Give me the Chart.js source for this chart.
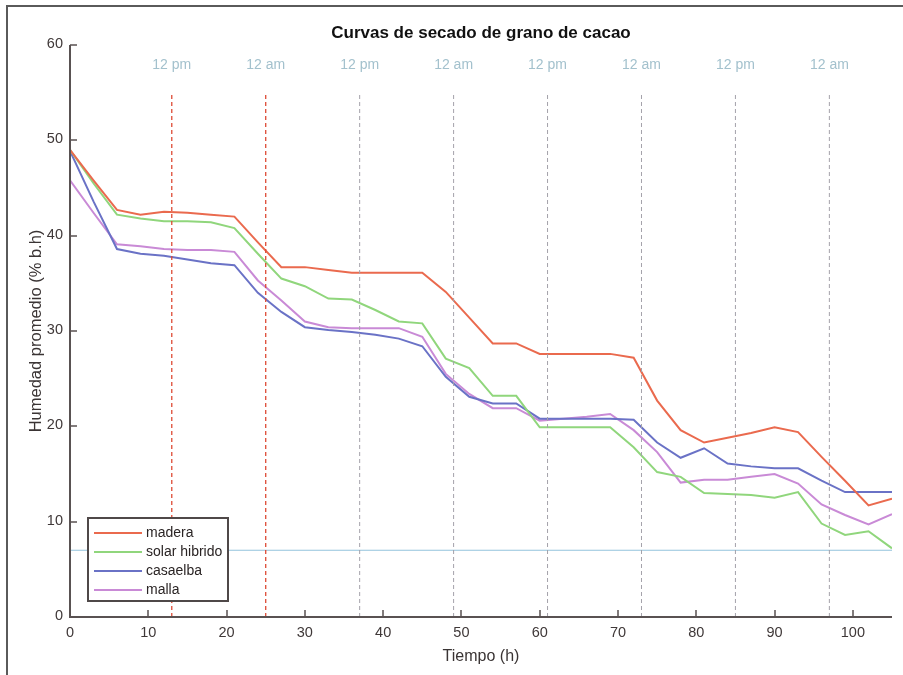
<!DOCTYPE html>
<html>
<head>
<meta charset="utf-8">
<script src="https://cdn.jsdelivr.net/npm/chart.js@4/dist/chart.umd.min.js"></script>
<style>
  html, body { margin: 0; padding: 0; background: #fff; }
  canvas { display: block; }
</style>
</head>
<body>
<canvas id="chart" width="903" height="675"></canvas>
<script>
// tiempo de muestreo (h)
const hours = [0, 3, 6, 9, 12, 15, 18, 21, 24, 27, 30, 33, 36, 39, 42, 45, 48, 51,
               54, 57, 60, 63, 66, 69, 72, 75, 78, 81, 84, 87, 90, 93, 96, 99, 102, 105];

// humedad promedio (% b.h) por secador
const madera = [49.0, 45.8, 42.7, 42.2, 42.5, 42.4, 42.2, 42.0, 39.3, 36.7, 36.7, 36.4,
                36.1, 36.1, 36.1, 36.1, 34.1, 31.4, 28.7, 28.7, 27.6, 27.6, 27.6, 27.6,
                27.2, 22.7, 19.6, 18.3, 18.8, 19.3, 19.9, 19.4, 16.8, 14.3, 11.7, 12.4];
const solarHibrido = [49.0, 45.5, 42.2, 41.8, 41.5, 41.5, 41.4, 40.8, 38.1, 35.5, 34.7, 33.4,
                      33.3, 32.2, 31.0, 30.8, 27.1, 26.1, 23.2, 23.2, 19.9, 19.9, 19.9, 19.9,
                      17.8, 15.2, 14.7, 13.0, 12.9, 12.8, 12.5, 13.1, 9.8, 8.6, 9.0, 7.2];
const casaelba = [48.9, 43.6, 38.6, 38.1, 37.9, 37.5, 37.1, 36.9, 34.0, 32.0, 30.4, 30.1,
                  29.9, 29.6, 29.2, 28.4, 25.2, 23.1, 22.4, 22.4, 20.8, 20.8, 20.8, 20.8,
                  20.7, 18.3, 16.7, 17.7, 16.1, 15.8, 15.6, 15.6, 14.3, 13.1, 13.1, 13.1];
const malla = [45.8, 42.4, 39.1, 38.9, 38.6, 38.5, 38.5, 38.3, 35.3, 33.2, 31.0, 30.4,
               30.3, 30.3, 30.3, 29.4, 25.5, 23.4, 21.9, 21.9, 20.6, 20.8, 21.0, 21.3,
               19.6, 17.3, 14.1, 14.4, 14.4, 14.7, 15.0, 14.0, 11.8, 10.7, 9.7, 10.8];

// marcas de mediodia / medianoche
const markHours = [13, 25, 37, 49, 61, 73, 85, 97];
const markLabels = ["12 pm", "12 am", "12 pm", "12 am", "12 pm", "12 am", "12 pm", "12 am"];
const markTop = 55;
const targetMoisture = 7;

const xTicks = [0, 10, 20, 30, 40, 50, 60, 70, 80, 90, 100];
const yTicks = [0, 10, 20, 30, 40, 50, 60];

const seriesNames = ["madera", "solar hibrido", "casaelba", "malla"];
const seriesValues = [madera, solarHibrido, casaelba, malla];
const seriesColors = ["#ea6a4e", "#90d67c", "#6a72c6", "#c98ad6"];

const FONT = "'Liberation Sans', Arial, Helvetica, sans-serif";

function toPoints(values) {
    return hours.map((h, i) => ({x: h, y: values[i]}));
}

let datasets = [];

//guide lines go first so the curves sit on top
markHours.forEach((h, i) => {
    datasets.push({
        label: "_mark" + i,
        data: [{x: h, y: 0}, {x: h, y: markTop}],
        borderColor: i < 2 ? "#dd4a35" : "#a4a2aa",
        borderWidth: i < 2 ? 1.3 : 1,
        borderDash: [4, 3],
        pointRadius: 0
    });
});
datasets.push({
    label: "_target",
    data: [{x: hours[0], y: targetMoisture}, {x: hours[hours.length - 1], y: targetMoisture}],
    borderColor: "#93c3dc",
    borderWidth: 1.2,
    pointRadius: 0
});

seriesNames.forEach((name, i) => {
    datasets.push({
        label: name,
        data: toPoints(seriesValues[i]),
        borderColor: seriesColors[i],
        borderWidth: 2,
        pointRadius: 0,
        tension: 0
    });
});

/** draws the matlab style frame, axes, texts and legend */
const decorPlugin = {
    id: "decor",
    beforeDraw(chart) {
        const ctx = chart.ctx;
        ctx.save();
        ctx.fillStyle = "#fff";
        ctx.fillRect(0, 0, chart.width, chart.height);
        //page border (top and left only, the rest is cropped)
        ctx.strokeStyle = "#5a5a5a";
        ctx.lineWidth = 2;
        ctx.beginPath();
        ctx.moveTo(7, chart.height);
        ctx.lineTo(7, 6);
        ctx.lineTo(chart.width, 6);
        ctx.stroke();
        ctx.restore();
    },
    afterDraw(chart) {
        const ctx = chart.ctx;
        const xs = chart.scales.x;
        const ys = chart.scales.y;
        const area = chart.chartArea;
        const axisColor = "#595252";
        ctx.save();

        //axes
        ctx.strokeStyle = axisColor;
        ctx.lineWidth = 2;
        ctx.beginPath();
        ctx.moveTo(area.left, ys.getPixelForValue(60));
        ctx.lineTo(area.left, area.bottom);
        ctx.lineTo(area.right, area.bottom);
        ctx.stroke();

        //ticks inward
        ctx.lineWidth = 1.5;
        ctx.beginPath();
        yTicks.forEach(v => {
            const y = Math.round(ys.getPixelForValue(v));
            ctx.moveTo(area.left, y);
            ctx.lineTo(area.left + 7, y);
        });
        xTicks.forEach(v => {
            const x = Math.round(xs.getPixelForValue(v));
            ctx.moveTo(x, area.bottom);
            ctx.lineTo(x, area.bottom - 7);
        });
        ctx.stroke();

        //tick labels
        ctx.fillStyle = "#3f3838";
        ctx.font = "14.5px " + FONT;
        ctx.textAlign = "right";
        ctx.textBaseline = "middle";
        yTicks.forEach(v => ctx.fillText(String(v), area.left - 7, ys.getPixelForValue(v) - 1));
        ctx.textAlign = "center";
        ctx.textBaseline = "top";
        xTicks.forEach(v => ctx.fillText(String(v), xs.getPixelForValue(v), area.bottom + 9));

        //axis titles
        ctx.font = "16px " + FONT;
        ctx.fillStyle = "#3a3434";
        ctx.textBaseline = "middle";
        ctx.fillText("Tiempo (h)", (area.left + area.right) / 2, 657);
        ctx.save();
        ctx.translate(36, (area.top + area.bottom) / 2);
        ctx.rotate(-Math.PI / 2);
        ctx.font = "16.5px " + FONT;
        ctx.fillText("Humedad promedio (% b.h)", 0, 0);
        ctx.restore();

        //title
        ctx.font = "bold 17px " + FONT;
        ctx.fillStyle = "#111";
        ctx.fillText("Curvas de secado de grano de cacao", (area.left + area.right) / 2, 33);

        //day marks
        ctx.font = "14px " + FONT;
        ctx.fillStyle = "#a3c1cd";
        markHours.forEach((h, i) => ctx.fillText(markLabels[i], xs.getPixelForValue(h), 65));

        //legend box
        const lx = 88, ly = 518, lw = 140, lh = 83;
        ctx.fillStyle = "#fff";
        ctx.fillRect(lx, ly, lw, lh);
        ctx.strokeStyle = "#4f4848";
        ctx.lineWidth = 2;
        ctx.strokeRect(lx, ly, lw, lh);
        ctx.font = "14px " + FONT;
        ctx.textAlign = "left";
        seriesNames.forEach((name, i) => {
            const y = ly + 15 + i * 19;
            ctx.strokeStyle = seriesColors[i];
            ctx.lineWidth = 2;
            ctx.beginPath();
            ctx.moveTo(lx + 6, y);
            ctx.lineTo(lx + 54, y);
            ctx.stroke();
            ctx.fillStyle = "#2a2424";
            ctx.fillText(name, lx + 58, y);
        });
        ctx.restore();
    }
};

new Chart(document.getElementById("chart"), {
    type: "line",
    data: {datasets},
    options: {
        responsive: false,
        animation: false,
        layout: {padding: {left: 70, top: 45, right: 11, bottom: 58}},
        scales: {
            x: {type: "linear", min: 0, max: 105, display: false},
            y: {min: 0, max: 60, display: false}
        },
        plugins: {
            legend: {display: false},
            tooltip: {enabled: false},
            title: {display: false}
        }
    },
    plugins: [decorPlugin]
});
</script>
</body>
</html>
